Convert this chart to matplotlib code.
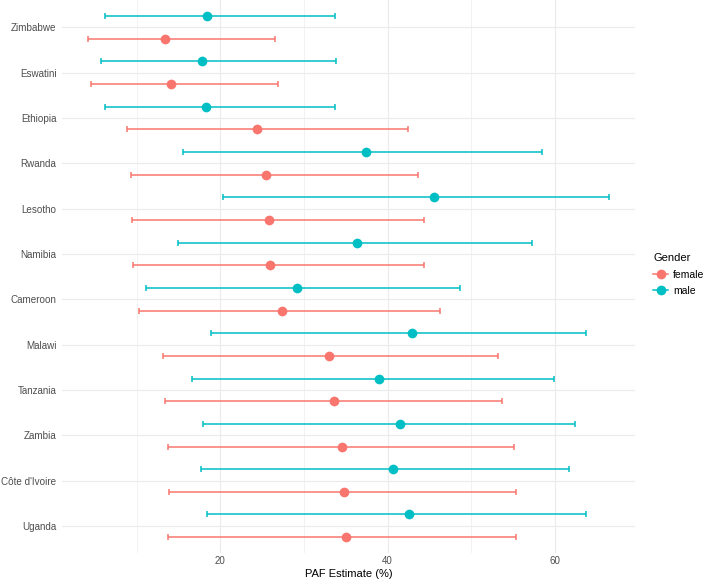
import matplotlib
matplotlib.use("Agg")
import matplotlib.pyplot as plt
from matplotlib.lines import Line2D
import numpy as np

plt.rcParams['font.family'] = ['Liberation Sans', 'DejaVu Sans']

# Countries listed top to bottom as displayed
countries = ["Zimbabwe", "Eswatini", "Ethiopia", "Rwanda", "Lesotho", "Namibia",
             "Cameroon", "Malawi", "Tanzania", "Zambia", "Côte d'Ivoire", "Uganda"]

female_est = [13.4, 14.1, 24.4, 25.5, 25.8, 25.9, 27.4, 33.0, 33.6, 34.6, 34.8, 35.0]
female_lo  = [4.2, 4.6, 8.9, 9.3, 9.5, 9.6, 10.3, 13.2, 13.4, 13.8, 13.9, 13.8]
female_hi  = [26.5, 26.9, 42.4, 43.6, 44.3, 44.4, 46.2, 53.2, 53.7, 55.1, 55.35, 55.35]

male_est = [18.45, 17.8, 18.3, 37.4, 45.5, 36.3, 29.2, 42.9, 39.0, 41.5, 40.7, 42.5]
male_lo  = [6.2, 5.8, 6.2, 15.5, 20.3, 14.9, 11.1, 18.85, 16.6, 17.9, 17.7, 18.4]
male_hi  = [33.7, 33.8, 33.7, 58.45, 66.45, 57.25, 48.6, 63.75, 59.85, 62.4, 61.7, 63.7]

x_ticks = [20, 40, 60]
x_minor = [10, 30, 50]

female_col = "#F8766D"
male_col = "#00BFC4"

n = len(countries)
ypos = np.arange(n)[::-1] + 1.0  # Zimbabwe top

fig = plt.figure(figsize=(7.08, 5.81), dpi=100)
ax = fig.add_axes([62/708, 1 - 553/581, (635 - 62)/708, 553/581 - 0.0005])

dodge = 0.25
for est, lo, hi, col, off in [(female_est, female_lo, female_hi, female_col, -dodge),
                              (male_est, male_lo, male_hi, male_col, dodge)]:
    est = np.array(est); lo = np.array(lo); hi = np.array(hi)
    ax.errorbar(est, ypos + off, xerr=[est - lo, hi - est], fmt='none',
                ecolor=col, elinewidth=1.1, capsize=2.3, capthick=1.1, zorder=3)
    ax.plot(est, ypos + off, 'o', color=col, markersize=7, markeredgewidth=0, zorder=4)

allv = np.concatenate([female_lo, female_hi, male_lo, male_hi])
rng = allv.max() - allv.min()
ax.set_xlim(allv.min() - 0.05 * rng, allv.max() + 0.05 * rng)
ax.set_ylim(0.4, n + 0.6)

ax.set_xticks(x_ticks)
ax.set_xticks(x_minor, minor=True)
ax.set_yticks(ypos)
ax.set_yticklabels(countries)
ax.grid(True, which='major', color='#EBEBEB', linewidth=0.8)
ax.grid(True, which='minor', axis='x', color='#EBEBEB', linewidth=0.45)
ax.set_axisbelow(True)
for s in ax.spines.values():
    s.set_visible(False)
ax.tick_params(which='both', length=0)
ax.tick_params(axis='x', labelsize=7, labelcolor='#4D4D4D', pad=2)
ax.tick_params(axis='y', labelsize=7.1, labelcolor='#4D4D4D', pad=4)
ax.set_xlabel("PAF Estimate (%)", fontsize=8, labelpad=2, color='black')

handles = [Line2D([0], [0], color=female_col, marker='o', markersize=7, markeredgewidth=0, linewidth=1.1),
           Line2D([0], [0], color=male_col, marker='o', markersize=7, markeredgewidth=0, linewidth=1.1)]
leg = fig.legend(handles, ["female", "male"], title="Gender", loc='upper left',
                 bbox_to_anchor=(644/708, 1 - 244/581), frameon=False,
                 fontsize=7.5, title_fontsize=8, handlelength=1.4,
                 handletextpad=0.5, labelspacing=0.6, alignment='left')

fig.savefig("out.png", dpi=100)
